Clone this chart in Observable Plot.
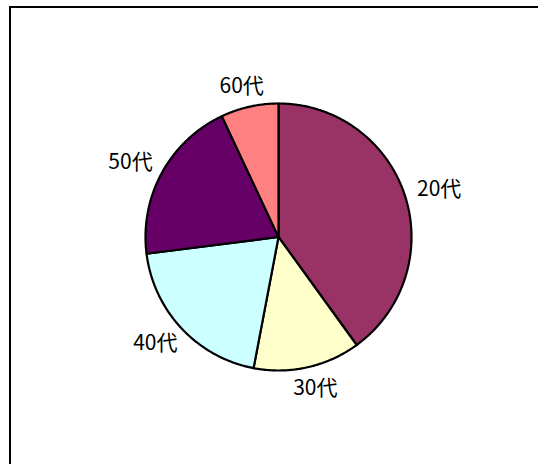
<!DOCTYPE html>
<html><head><meta charset="utf-8">
<script src="https://cdn.jsdelivr.net/npm/d3@7"></script>
<script src="https://cdn.jsdelivr.net/npm/@observablehq/plot@0.6"></script>
<style>
body{margin:0;background:#fff;}
#wrap{position:relative;width:538px;height:464px;overflow:hidden;background:#fff;}
#frame{position:absolute;left:9px;top:6px;width:700px;height:700px;border-left:2px solid #000;border-top:2px solid #000;}
#chart{position:absolute;left:0;top:0;}
</style></head><body>
<div id="wrap"><div id="frame"></div><div id="chart"></div></div>
<script>
const categories = ["20代","30代","40代","50代","60代"];
const values = [40, 13, 20, 20, 7];
const colors = ["#993366","#FFFFCC","#CCFFFF","#660066","#FF8080"];

const arcs = d3.pie().sort(null).startAngle(0).endAngle(2 * Math.PI)(values);
const slicePts = [];
const labelData = [];
arcs.forEach((a, i) => {
  const cat = categories[i];
  slicePts.push({cat, x: 0, y: 0});
  const n = Math.max(2, Math.ceil((a.endAngle - a.startAngle) / (Math.PI / 360)));
  for (let k = 0; k <= n; k++) {
    const t = a.startAngle + (a.endAngle - a.startAngle) * k / n;
    slicePts.push({cat, x: Math.sin(t), y: Math.cos(t)});
  }
  const mid = (a.startAngle + a.endAngle) / 2;
  labelData.push({cat, x: 1.27 * Math.sin(mid), y: 1.16 * Math.cos(mid)});
});

const chart = Plot.plot({
  width: 538, height: 464,
  marginLeft: 145, marginRight: 127, marginTop: 103, marginBottom: 94,
  x: {domain: [-1, 1], axis: null},
  y: {domain: [-1, 1], axis: null},
  color: {domain: categories, range: colors},
  style: {background: "transparent", fontFamily: "'Noto Sans CJK JP', sans-serif"},
  marks: [
    Plot.line(slicePts, {x: "x", y: "y", z: "cat", fill: "cat", stroke: "#000", strokeWidth: 2.2, curve: "linear-closed", strokeLinejoin: "round"}),
    Plot.text(labelData, {x: "x", y: "y", text: "cat", fontSize: 21, fill: "#000"})
  ]
});
document.getElementById("chart").appendChild(chart);
</script>
</body></html>
